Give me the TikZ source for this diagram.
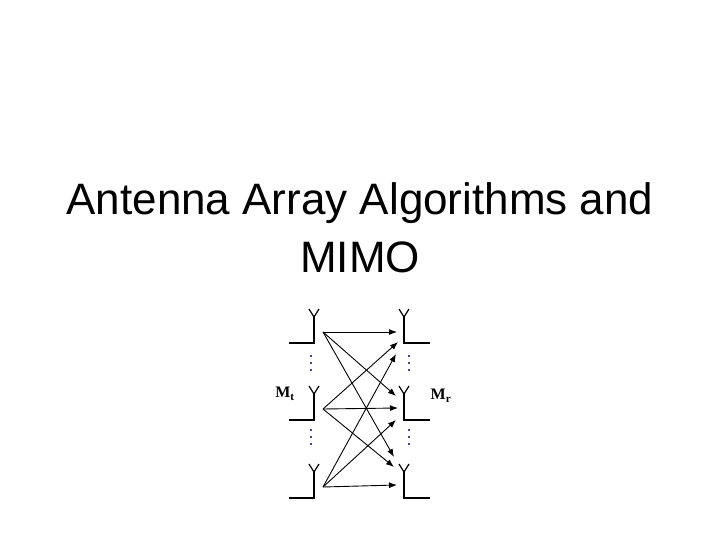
\documentclass[tikz,border=0pt]{standalone}
\usepackage{fontspec}
\setmainfont{Liberation Sans}
\newfontfamily\serifb{Liberation Serif}
\usetikzlibrary{arrows.meta}
\begin{document}
\begin{tikzpicture}[x=1pt,y=-1pt,
  ant/.style={line width=1.2pt},
  sig/.style={line width=0.9pt,-{Latex[length=8pt,width=6pt]}},
  dot/.style={circle,fill=blue!50!black,inner sep=0pt,minimum size=2.2pt}]
\useasboundingbox (0,0) rectangle (720,540);
\node (t1) at (360,203) {\fontsize{44}{48}\selectfont Antenna Array Algorithms and};
\node (t2) at (360,257) {\fontsize{44}{48}\selectfont MIMO};
% antennas
\foreach \n/\y in {1/312,2/389,3/467}{
  \draw[ant] (289,\y+31) -- (314,\y+31) -- (314,\y+5);
  \draw[ant] (309,\y-3) -- (314,\y+5) -- (319,\y-3);
  \draw[ant] (430,\y+31) -- (404,\y+31) -- (404,\y+5);
  \draw[ant] (399,\y-3) -- (404,\y+5) -- (409,\y-3);
  \coordinate (s\n) at (323,\y+20);
}
\foreach \x in {311,409}{
  \foreach \y in {356,363,370,430,437,444}{\node[dot] at (\x,\y) {};}
}
\coordinate (r11) at (397,332); \coordinate (r12) at (398,342); \coordinate (r13) at (396,354);
\coordinate (r21) at (396,396); \coordinate (r22) at (398,408); \coordinate (r23) at (396,420);
\coordinate (r31) at (394,457); \coordinate (r32) at (394,467); \coordinate (r33) at (397,485);
\foreach \s/\a/\b/\c in {1/r11/r21/r31,2/r12/r22/r32,3/r13/r23/r33}{
  \draw[sig] (s\s) -- (\a);
  \draw[sig] (s\s) -- (\b);
  \draw[sig] (s\s) -- (\c);
}
\node (mt) at (285,394) {\serifb\bfseries\fontsize{16}{16}\selectfont M\textsubscript{t}};
\node (mr) at (441,396) {\serifb\bfseries\fontsize{16}{16}\selectfont M\textsubscript{r}};
\end{tikzpicture}
\end{document}
